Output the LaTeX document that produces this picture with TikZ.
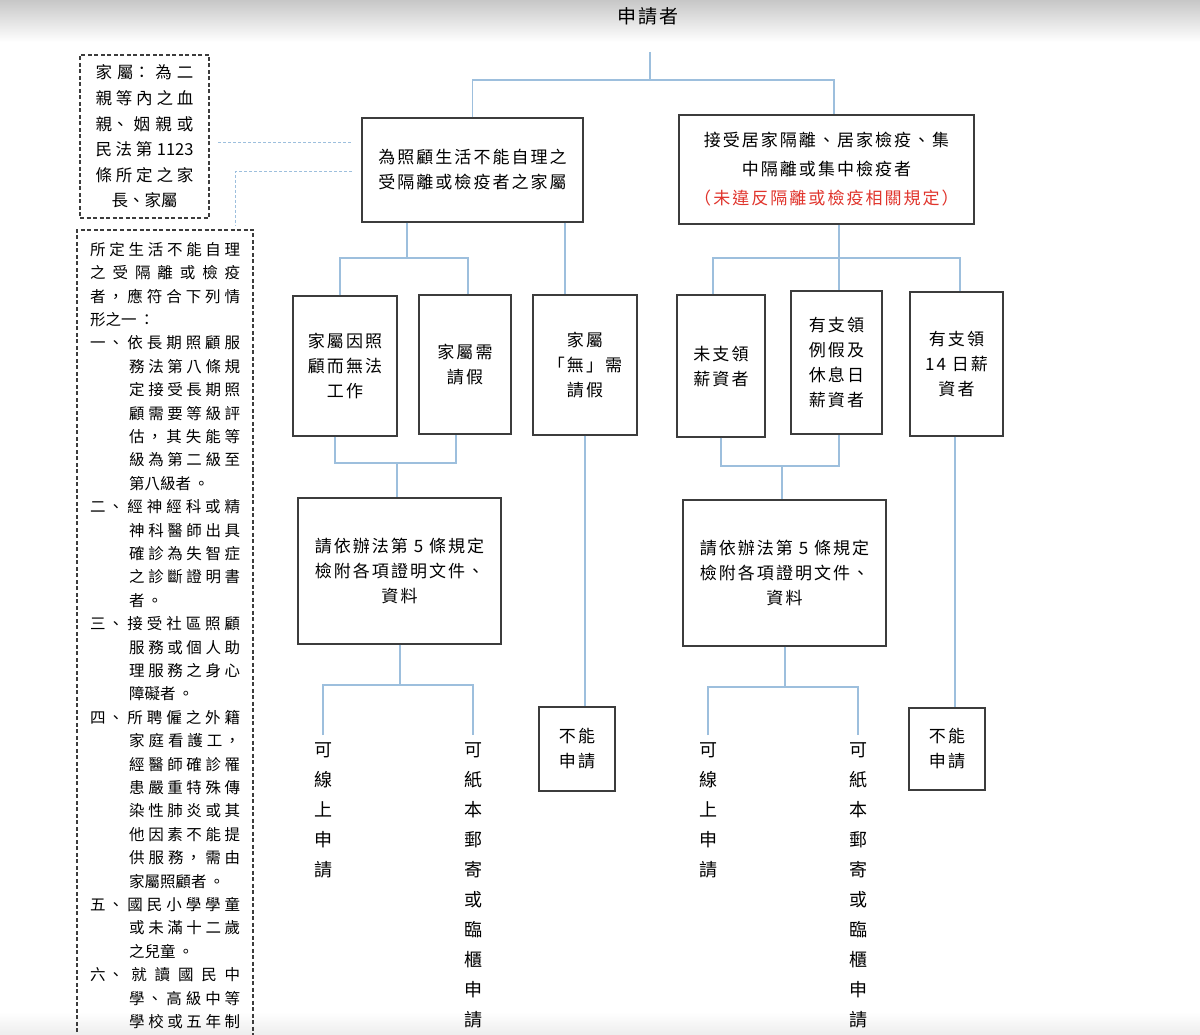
\documentclass[tikz,border=0pt]{standalone}
\usepackage{fontspec}
\setmainfont{Noto Sans CJK TC}
\newfontfamily\boxfont{Noto Sans CJK TC}[LetterSpace=12]
\newfontfamily\notefont{Noto Sans CJK TC}[LetterSpace=15]
\XeTeXlinebreaklocale "zh"
\XeTeXlinebreakskip=0pt plus 8pt
\setlength{\parindent}{0pt}
\definecolor{flowBlue}{HTML}{9DBFDD}
\definecolor{flowFrame}{HTML}{3C3C3C}
\definecolor{flowRed}{HTML}{E0342C}
\newcommand{\itemhang}{\hangindent=39pt\hangafter=1\relax}

\begin{document}
\begin{tikzpicture}[
  x=1pt,y=-1pt,
  box/.style={draw=flowFrame,line width=1.3pt,inner sep=0pt,align=center,font=\boxfont\fontsize{17}{25}\selectfont},
  link/.style={draw=flowBlue,line width=1.2pt},
  hint/.style={draw=flowBlue,line width=1pt,dash pattern=on 3pt off 2pt},
  notebox/.style={draw=flowFrame,line width=1.2pt,dash pattern=on 4pt off 2.5pt},
  vtext/.style={inner sep=7pt,align=center,font=\fontsize{18}{30}\selectfont}
]
\useasboundingbox (0,0) rectangle (1200,1035);
% screenshot shading
\fill[top color=black!22,bottom color=white] (0,0) rectangle (1200,42);
\fill[top color=white,bottom color=black!7] (0,1012) rectangle (1200,1035);

\node[font=\boxfont\fontsize{19}{22}\selectfont] (applicant) at (648,16) {申請者};

\node[box,minimum width=221,minimum height=104] (family) at (472.5,170) {為照顧生活不能自理之\\受隔離或檢疫者之家屬};
\node[box,minimum width=295,minimum height=109,font=\boxfont\fontsize{17}{29}\selectfont] (quarantined) at (826.5,169.5) {接受居家隔離、居家檢疫、集\\中隔離或集中檢疫者\\\textcolor{flowRed}{（未違反隔離或檢疫相關規定）}};

\node[box,minimum width=104,minimum height=140] (cannotwork) at (345,366) {家屬因照\\顧而無法\\工作};
\node[box,minimum width=92,minimum height=139] (leave) at (465,364.5) {家屬需\\請假};
\node[box,minimum width=104,minimum height=140] (noleave) at (585,365) {家屬\\「無」需\\請假};
\node[box,minimum width=88,minimum height=142] (unpaid) at (721,366) {未支領\\薪資者};
\node[box,minimum width=91,minimum height=143] (holidaypay) at (836.5,362.5) {有支領\\例假及\\休息日\\薪資者};
\node[box,minimum width=93,minimum height=144] (fullpay) at (956.5,364) {有支領\\14 日薪\\資者};

\node[box,minimum width=203,minimum height=146] (docsA) at (399.5,571) {請依辦法第 5 條規定\\檢附各項證明文件、\\資料};
\node[box,minimum width=203,minimum height=146] (docsB) at (784.5,573) {請依辦法第 5 條規定\\檢附各項證明文件、\\資料};
\node[box,minimum width=76,minimum height=84] (refuseA) at (577,749) {不能\\申請};
\node[box,minimum width=76,minimum height=82] (refuseB) at (947,749) {不能\\申請};

\node[vtext] (onlineA) at (323,810) {可\\線\\上\\申\\請};
\node[vtext] (paperA) at (473,885) {可\\紙\\本\\郵\\寄\\或\\臨\\櫃\\申\\請};
\node[vtext] (onlineB) at (708,810) {可\\線\\上\\申\\請};
\node[vtext] (paperB) at (858,885) {可\\紙\\本\\郵\\寄\\或\\臨\\櫃\\申\\請};

% top split
\coordinate (top) at (650,52);
\coordinate (split) at (650,80);
\coordinate (splitR) at (834,80);
\draw[link] (top) -- (split);
\draw[link] (family.north) |- (split) -- (splitR) -- (splitR |- quarantined.north);

% second level
\coordinate (famJ) at (407,258);
\draw[link] (family.south -| famJ) -- (famJ);
\draw[link] (cannotwork.north -| 340,0) |- (famJ) -| (leave.north -| 468,0);
\draw[link] (family.south -| 565,0) -- (noleave.north -| 565,0);
\coordinate (quaJ) at (839,258);
\draw[link] (quarantined.south -| quaJ) -- (holidaypay.north -| quaJ);
\draw[link] (unpaid.north -| 713,0) |- (quaJ) -| (fullpay.north -| 960,0);

% third level
\coordinate (docsAJ) at (397,463);
\draw[link] (cannotwork.south -| 335,0) |- (docsAJ) -| (leave.south -| 456,0);
\draw[link] (docsAJ) -- (docsA.north -| docsAJ);
\coordinate (docsBJ) at (782,466);
\draw[link] (unpaid.south -| 721,0) |- (docsBJ) -| (holidaypay.south -| 839,0);
\draw[link] (docsBJ) -- (docsB.north -| docsBJ);
\draw[link] (noleave.south) -- (refuseA.north -| noleave.south);
\draw[link] (fullpay.south -| 955,0) -- (refuseB.north -| 955,0);

% ways to apply
\coordinate (wayAJ) at (400,685);
\draw[link] (docsA.south -| wayAJ) -- (wayAJ);
\draw[link] (onlineA.north) |- (wayAJ) -| (paperA.north);
\coordinate (wayBJ) at (785,687);
\draw[link] (docsB.south -| wayBJ) -- (wayBJ);
\draw[link] (onlineB.north) |- (wayBJ) -| (paperB.north);

% side notes
\node[notebox,minimum width=129,minimum height=163,text width=98,inner sep=0pt,align=justify,font=\fontsize{16.5}{25.6}\selectfont] (kinship) at (144.5,136.5) {家屬：為二\linebreak 親等內之血\linebreak 親、姻親或\linebreak 民法第 1123\linebreak 條所定之家\linebreak\hspace*{\fill}長、家屬\hspace*{\fill}\null};
\draw[notebox] (77,1045) |- (253,230) -- (253,1045);
\node[anchor=north west,text width=150,inner sep=0pt,align=justify,font=\notefont\fontsize{15.5}{23.4}\selectfont] (criteria) at (90,242) {所定生活不能自理\linebreak 之受隔離或檢疫\linebreak 者，應符合下列情\linebreak 形之一：\par
\itemhang 一、依長期照顧服\linebreak 務法第八條規\linebreak 定接受長期照\linebreak 顧需要等級評\linebreak 估，其失能等\linebreak 級為第二級至\linebreak 第八級者。\par
\itemhang 二、經神經科或精\linebreak 神科醫師出具\linebreak 確診為失智症\linebreak 之診斷證明書\linebreak 者。\par
\itemhang 三、接受社區照顧\linebreak 服務或個人助\linebreak 理服務之身心\linebreak 障礙者。\par
\itemhang 四、所聘僱之外籍\linebreak 家庭看護工，\linebreak 經醫師確診罹\linebreak 患嚴重特殊傳\linebreak 染性肺炎或其\linebreak 他因素不能提\linebreak 供服務，需由\linebreak 家屬照顧者。\par
\itemhang 五、國民小學學童\linebreak 或未滿十二歲\linebreak 之兒童。\par
{\itemhang 六、就讀國民中\linebreak 學、高級中等\linebreak 學校或五年制\parfillskip=0pt\par}};

\coordinate (kinL) at (218,143);
\coordinate (kinR) at (352,143);
\draw[hint] (kinL) -- (kinR);
\coordinate (critR) at (352,172);
\coordinate (critB) at (235,226);
\draw[hint] (critR) -| (critB);
\end{tikzpicture}
\end{document}
